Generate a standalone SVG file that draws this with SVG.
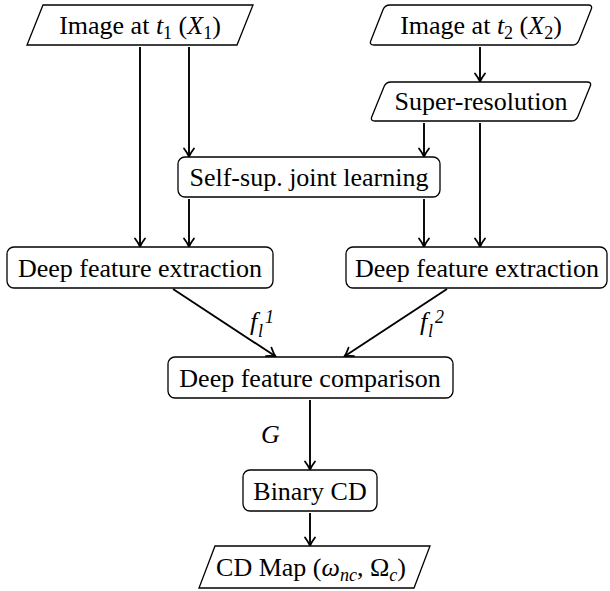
<svg xmlns="http://www.w3.org/2000/svg" width="610" height="591" viewBox="0 0 610 591">
<style>
.box{fill:#fff;stroke:#000;stroke-width:1.3}
.t{font-size:26px;fill:#000;text-anchor:middle}
.m{fill:#000;font-style:italic}
.c{fill:none;stroke:#000;stroke-width:1.9}
</style>
<defs>
<marker id="arr" markerUnits="userSpaceOnUse" markerWidth="16" markerHeight="16" refX="0" refY="0" viewBox="-10 -8 13 16" orient="auto" overflow="visible">
<path d="M-7.5,-5 Q-2.5,-1.2 0.8,0 Q-2.5,1.2 -7.5,5" fill="none" stroke="#000" stroke-width="1.8" stroke-linecap="round" stroke-linejoin="round"/>
</marker>
</defs>
<rect width="610" height="591" fill="#fff"/>
<g font-family="'Liberation Serif', Tinos, 'Times New Roman', 'DejaVu Serif', serif">
<g id="connectors">
<line class="c" x1="140" y1="47" x2="140" y2="246" marker-end="url(#arr)"/>
<line class="c" x1="189" y1="47" x2="189" y2="156" marker-end="url(#arr)"/>
<line class="c" x1="189" y1="199" x2="189" y2="246" marker-end="url(#arr)"/>
<line class="c" x1="480" y1="47" x2="480" y2="81" marker-end="url(#arr)"/>
<line class="c" x1="424" y1="123" x2="424" y2="156" marker-end="url(#arr)"/>
<line class="c" x1="480" y1="123" x2="480" y2="246" marker-end="url(#arr)"/>
<line class="c" x1="424" y1="199" x2="424" y2="246" marker-end="url(#arr)"/>
<line class="c" x1="173" y1="289" x2="275" y2="356" marker-end="url(#arr)"/>
<line class="c" x1="447" y1="289" x2="345" y2="356" marker-end="url(#arr)"/>
<line class="c" x1="310" y1="400" x2="310" y2="469" marker-end="url(#arr)"/>
<line class="c" x1="310" y1="513" x2="310" y2="545" marker-end="url(#arr)"/>
<text class="m" x="250" y="330" font-size="26">f</text>
<text class="m" x="265" y="323" font-size="18" font-style="normal">1</text>
<text class="m" x="258" y="337" font-size="18">l</text>
<text class="m" x="420" y="330" font-size="26">f</text>
<text class="m" x="435" y="323" font-size="18" font-style="normal">2</text>
<text class="m" x="428" y="337" font-size="18">l</text>
<text class="m" x="261" y="443" font-size="26">G</text>
</g>
<g id="img1">
<polygon class="box" points="43,5 253,5 237,45 27,45"/>
<text class="t" x="140" y="34">Image at <tspan font-style="italic">t</tspan><tspan font-size="18" dy="5">1</tspan><tspan dy="-5"> (</tspan><tspan font-style="italic">X</tspan><tspan font-size="18" dy="5">1</tspan><tspan dy="-5">)</tspan></text>
</g>
<g id="img2">
<path class="box" d="M390,5 L588,5 Q593,5 591.1,9.6 L578.9,40.4 Q577,45 572,45 L374,45 Q369,45 370.9,40.4 L383.1,9.6 Q385,5 390,5 Z"/>
<text class="t" x="481" y="34">Image at <tspan font-style="italic">t</tspan><tspan font-size="18" dy="5">2</tspan><tspan dy="-5"> (</tspan><tspan font-style="italic">X</tspan><tspan font-size="18" dy="5">2</tspan><tspan dy="-5">)</tspan></text>
</g>
<g id="superres">
<path class="box" d="M391,82 L587,82 Q592,82 590.1,86.6 L577.9,116.4 Q576,121 571,121 L375,121 Q370,121 371.9,116.4 L384.1,86.6 Q386,82 391,82 Z"/>
<text class="t" x="481" y="110">Super-resolution</text>
</g>
<g id="selfsup">
<rect class="box" x="178" y="157" width="262" height="40" rx="7"/>
<text class="t" x="309" y="186">Self-sup. joint learning</text>
</g>
<g id="dfe1">
<rect class="box" x="7" y="247" width="266" height="41" rx="7"/>
<text class="t" x="140" y="277">Deep feature extraction</text>
</g>
<g id="dfe2">
<rect class="box" x="346" y="247" width="261" height="41" rx="7"/>
<text class="t" x="477" y="277">Deep feature extraction</text>
</g>
<g id="compare">
<rect class="box" x="168" y="357" width="285" height="41" rx="7"/>
<text class="t" x="310" y="387">Deep feature comparison</text>
</g>
<g id="binary">
<rect class="box" x="243" y="470" width="134" height="41" rx="7"/>
<text class="t" x="310" y="500">Binary CD</text>
</g>
<g id="cdmap">
<polygon class="box" points="215,546 430,546 414,588 199,588"/>
<text class="t" x="311" y="576">CD Map (<tspan font-style="italic">ω</tspan><tspan font-size="18" font-style="italic" dy="5">nc</tspan><tspan dy="-5">, Ω</tspan><tspan font-size="18" font-style="italic" dy="5">c</tspan><tspan dy="-5">)</tspan></text>
</g>
</g>
</svg>
